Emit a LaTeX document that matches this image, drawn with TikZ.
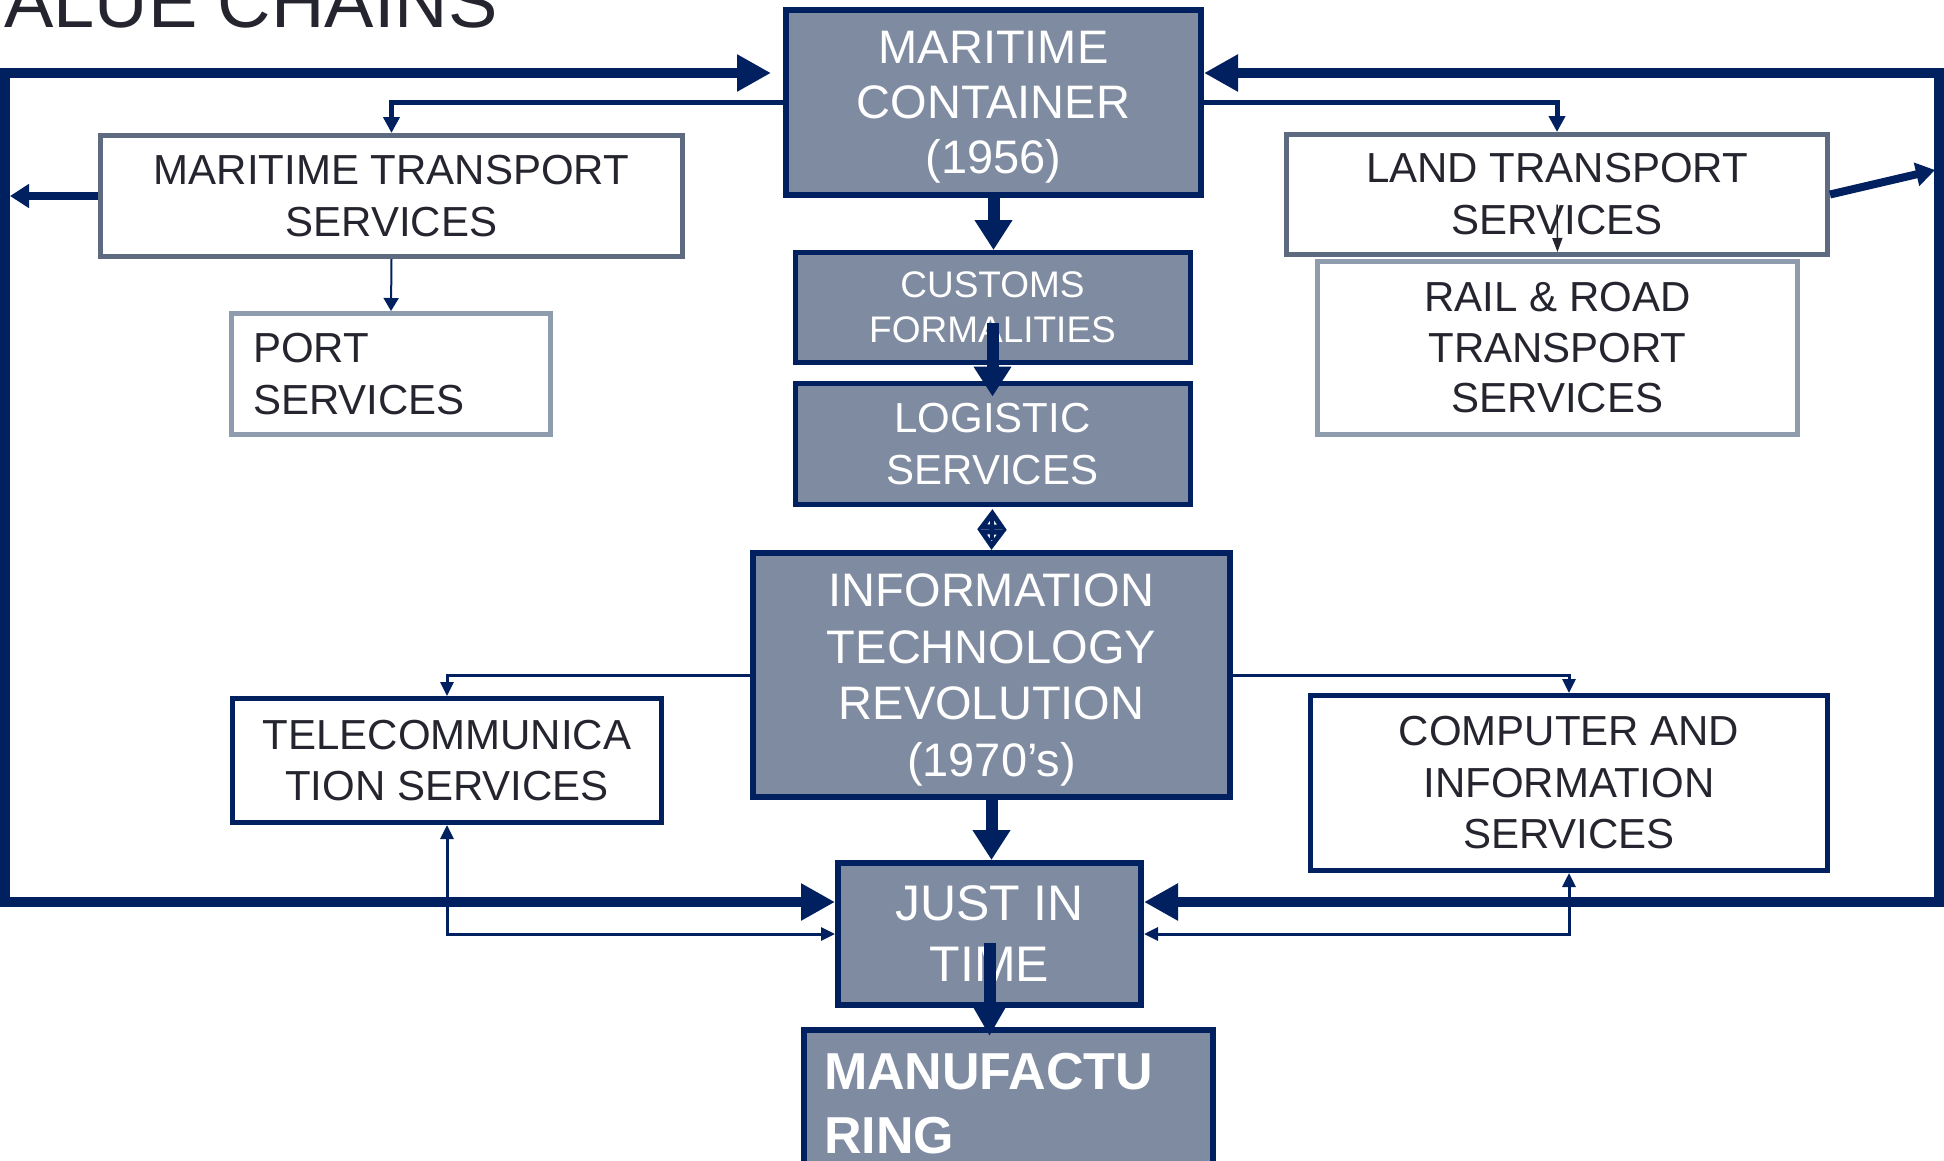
\documentclass[tikz,border=0pt]{standalone}
\usepackage{fontspec}
\setmainfont{Liberation Sans}
\usetikzlibrary{arrows.meta}
\definecolor{navy}{HTML}{002060}
\definecolor{slate}{HTML}{7F8BA0}
\definecolor{bordgray}{HTML}{5D6A7F}
\definecolor{bordlight}{HTML}{8E9CAE}
\definecolor{ink}{HTML}{25252F}
\tikzset{
  box/.style={rectangle, inner sep=0pt, align=center},
  darkbox/.style={box, draw=navy, fill=slate, text=white},
  whitebox/.style={box, draw=navy, fill=white, text=ink},
  graybox/.style={box, draw=bordgray, fill=white, text=ink},
  lightbox/.style={box, draw=bordlight, fill=white, text=ink},
  bigarr/.style={draw=navy, line width=10pt, -{Triangle[length=34pt,width=35pt]}},
  vbigarr/.style={draw=navy, line width=12pt, -{Triangle[length=30pt,width=36pt]}},
  medarr/.style={draw=navy, line width=8pt, -{Triangle[length=19pt,width=23pt]}},
  linkarr/.style={draw=navy, line width=5pt, -{Triangle[length=16pt,width=16pt]}},
  finearr/.style={draw=navy, line width=2pt, -{Triangle[length=13pt,width=15pt]}},
  infoarr/.style={draw=navy, line width=3pt, -{Triangle[length=14pt,width=13pt]}},
  bothinfo/.style={draw=navy, line width=3pt, {Triangle[length=14pt,width=13pt]}-{Triangle[length=14pt,width=13pt]}},
  inkarr/.style={draw=ink, line width=1.5pt, -{Triangle[length=14pt,width=10pt]}},
}
\begin{document}
\begin{tikzpicture}[x=1pt,y=-1pt]
\useasboundingbox (0,0) rectangle (1944,1160);
\clip (0,0) rectangle (1944,1160);

% title (cut off at the top)
\node[anchor=base west, inner sep=0pt, text=ink, font=\fontsize{74}{80}\selectfont] (title) at (4,27) {ALUE CHAINS};

% nodes
\node[darkbox, line width=6pt, minimum width=415pt, minimum height=185pt,
      font=\fontsize{47}{55}\selectfont] (mc) at (993.5,102) {MARITIME\\CONTAINER\\\smash{(1956)}};
\node[graybox, line width=5pt, minimum width=582pt, minimum height=121pt,
      font=\fontsize{42}{52}\selectfont] (mts) at (391.5,196) {MARITIME TRANSPORT\\SERVICES};
\node[lightbox, line width=5pt, minimum width=319pt, minimum height=121pt, inner xsep=21.5pt,
      text width=276pt, align=left, font=\fontsize{42}{52}\selectfont] (port) at (391,374) {PORT\\SERVICES};
\node[darkbox, line width=5pt, minimum width=395pt, minimum height=110pt,
      font=\fontsize{37}{45}\selectfont] (customs) at (992.5,307.5) {CUSTOMS\\FORMALITIES};
\node[darkbox, line width=5pt, minimum width=395pt, minimum height=121pt,
      font=\fontsize{42}{52}\selectfont] (logi) at (992.5,444) {LOGISTIC\\SERVICES};
\node[graybox, line width=5pt, minimum width=541pt, minimum height=120pt,
      font=\fontsize{42}{52}\selectfont] (lts) at (1557,194.5) {LAND TRANSPORT\\SERVICES};
\node[lightbox, line width=5pt, minimum width=480pt, minimum height=173pt,
      font=\fontsize{42}{50.5}\selectfont] (rail) at (1557.5,348) {RAIL \& ROAD\\TRANSPORT\\SERVICES};
\node[darkbox, line width=6pt, minimum width=477pt, minimum height=244pt,
      font=\fontsize{47}{56.5}\selectfont] (it) at (991.5,675) {INFORMATION\\TECHNOLOGY\\REVOLUTION\\\smash{(1970’s)}};
\node[whitebox, line width=5pt, minimum width=429pt, minimum height=124pt,
      font=\fontsize{42}{51}\selectfont] (tele) at (447,760.5) {TELECOMMUNICA\\TION SERVICES};
\node[whitebox, line width=5pt, minimum width=517pt, minimum height=175pt,
      font=\fontsize{42}{51.5}\selectfont] (comp) at (1569,783) {COMPUTER AND\\INFORMATION\\SERVICES};
\node[darkbox, line width=6pt, minimum width=303pt, minimum height=142pt,
      font=\fontsize{50}{61}\selectfont] (jit) at (989.5,934) {JUST IN\\TIME};
\node[darkbox, line width=6pt, anchor=north west, inner xsep=20pt, inner ysep=23pt,
      text width=369pt, align=left, font=\fontsize{52}{64}\selectfont\bfseries] (manuf) at (801,1027) {MANUFACTU\\RING};

% frame coordinates
\coordinate (tl) at (5,73);
\coordinate (bl) at (5,902);
\coordinate (tr) at (1939,73);
\coordinate (br) at (1939,902);
\coordinate (rhit) at (1935,170);

% big loop arrows
\draw[bigarr, shorten >=12pt] (bl) -- (tl) -- (tl -| mc.west);
\draw[bigarr] (br) -- (tr) -- (tr -| mc.east);
\draw[bigarr] (tl) -- (bl) -- (bl -| jit.west);
\draw[bigarr] (tr) -- (br) -- (br -| jit.east);

% side arrows to the frame
\draw[medarr, shorten >=5pt] (mts.west) -- (mts.west -| tl);
\draw[medarr] (lts.east) -- (rhit);

% container links
\draw[linkarr] (mc.west) -| (mts.north);
\draw[linkarr] (mc.east) -| (lts.north);
\draw[finearr] (mts.south) -- (port.north);
\draw[inkarr, shorten <=10pt, shorten >=7pt] (lts.center) -- (rail.north);

% main column
\draw[vbigarr] (mc.south) -- (mc.south |- customs.north);
\draw[vbigarr] ([yshift=-15.5pt]customs.center) -- ([yshift=-15.5pt]customs.center |- logi.north);
\draw[navy, line width=4pt, shorten <=10pt, shorten >=10pt] (logi.south) -- (it.north);
\draw[navy, line width=5pt, shorten <=2pt,
      {Triangle[open,length=20.5pt,width=28pt]}-{Triangle[open,length=20.5pt,width=28pt]}] (logi.south) -- (it.north);
\draw[vbigarr] (it.south) -- (it.south |- jit.north);
\draw[vbigarr, -{Triangle[length=34pt,width=36pt]}] ([yshift=-9pt]jit.center) -- ([yshift=-9pt]jit.center |- manuf.north);

% information technology links
\draw[infoarr] (it.west) -| (tele.north);
\draw[infoarr] (it.east) -| (comp.north);
\draw[bothinfo] (tele.south) |- (jit.west);
\draw[bothinfo] (comp.south) |- (jit.east);
\end{tikzpicture}
\end{document}
